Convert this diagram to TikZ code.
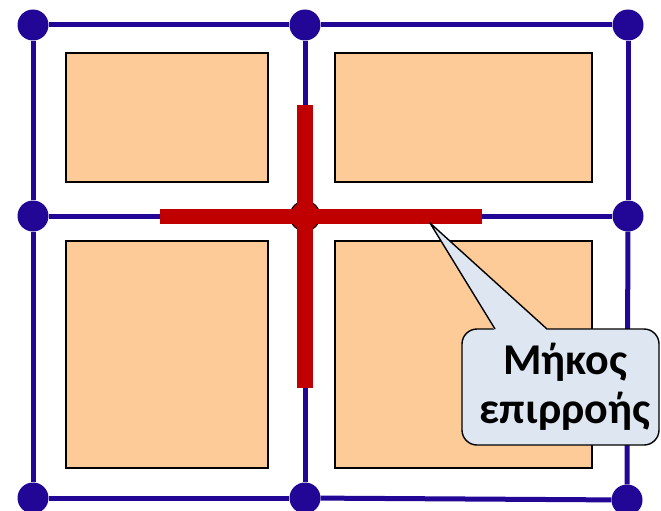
\documentclass[tikz,border=0pt]{standalone}
\usepackage{fontspec}
\newfontfamily\calloutfont{Carlito}
\definecolor{gridblue}{RGB}{34,6,150}
\definecolor{plotfill}{RGB}{253,203,152}
\definecolor{barred}{RGB}{192,0,0}
\definecolor{calloutfill}{RGB}{222,230,242}
\begin{document}
\begin{tikzpicture}[x=1pt,y=-1pt,
  junction/.style={circle,fill=gridblue,inner sep=0pt,minimum size=31pt},
  road/.style={draw=gridblue,line width=5pt},
  plot/.style={draw=black,line width=2pt,fill=plotfill},
  bar/.style={fill=barred},
  callout/.style={fill=calloutfill,draw=black,line width=1.4pt}]
\useasboundingbox (0,0) rectangle (661,511);

% street junctions
\node[junction] (a1) at (33,25) {};
\node[junction] (a2) at (305,25) {};
\node[junction] (a3) at (628,25) {};
\node[junction] (b1) at (33,216) {};
\coordinate (b2) at (305,216);
\node[junction] (b3) at (628,216) {};
\node[junction] (c1) at (33,498) {};
\node[junction] (c2) at (305,498) {};
\node[junction] (c3) at (627,500) {};

% street network
\draw[road] (a1) -- (a2);
\draw[road] (a2) -- (a3);
\draw[road] (b1) -- (b3);
\draw[road] (c1) -- (c2);
\draw[road] (c2) -- (c3);
\draw[road] (a1) -- (b1);
\draw[road] (b1) -- (c1);
\draw[road] (a2) -- (c2);
\draw[road] (a3) -- (b3);
\draw[road] (b3) -- (c3);

% building plots
\draw[plot] (66,53) rectangle (268,182);
\draw[plot] (335,53) rectangle (592,182);
\draw[plot] (66,241) rectangle (268,468);
\draw[plot] (335,241) rectangle (592,468);

% central junction and influence length
\node[circle,fill=barred,draw=black,line width=1pt,inner sep=0pt,minimum size=30pt] (ctr) at (b2) {};
\fill[bar] (160,209) rectangle (482,224);
\fill[bar] (297,105) rectangle (313,388);

% callout
\coordinate (tip) at (430,223);
\coordinate (pl) at (495,329);
\coordinate (pr) at (547,329);
\draw[callout,rounded corners=15pt] (462,329) rectangle (659,445);
\fill[calloutfill] (tip) -- (547.5,330.2) -- (494.5,330.2) -- cycle;
\draw[black,line width=1.4pt,line join=round] (pl) -- (tip) -- (pr);
\node[font=\calloutfont\bfseries\fontsize{44}{49}\selectfont,align=center,anchor=base] (lbl) at (565,423) {Μήκος\\επιρροής};
\end{tikzpicture}
\end{document}
